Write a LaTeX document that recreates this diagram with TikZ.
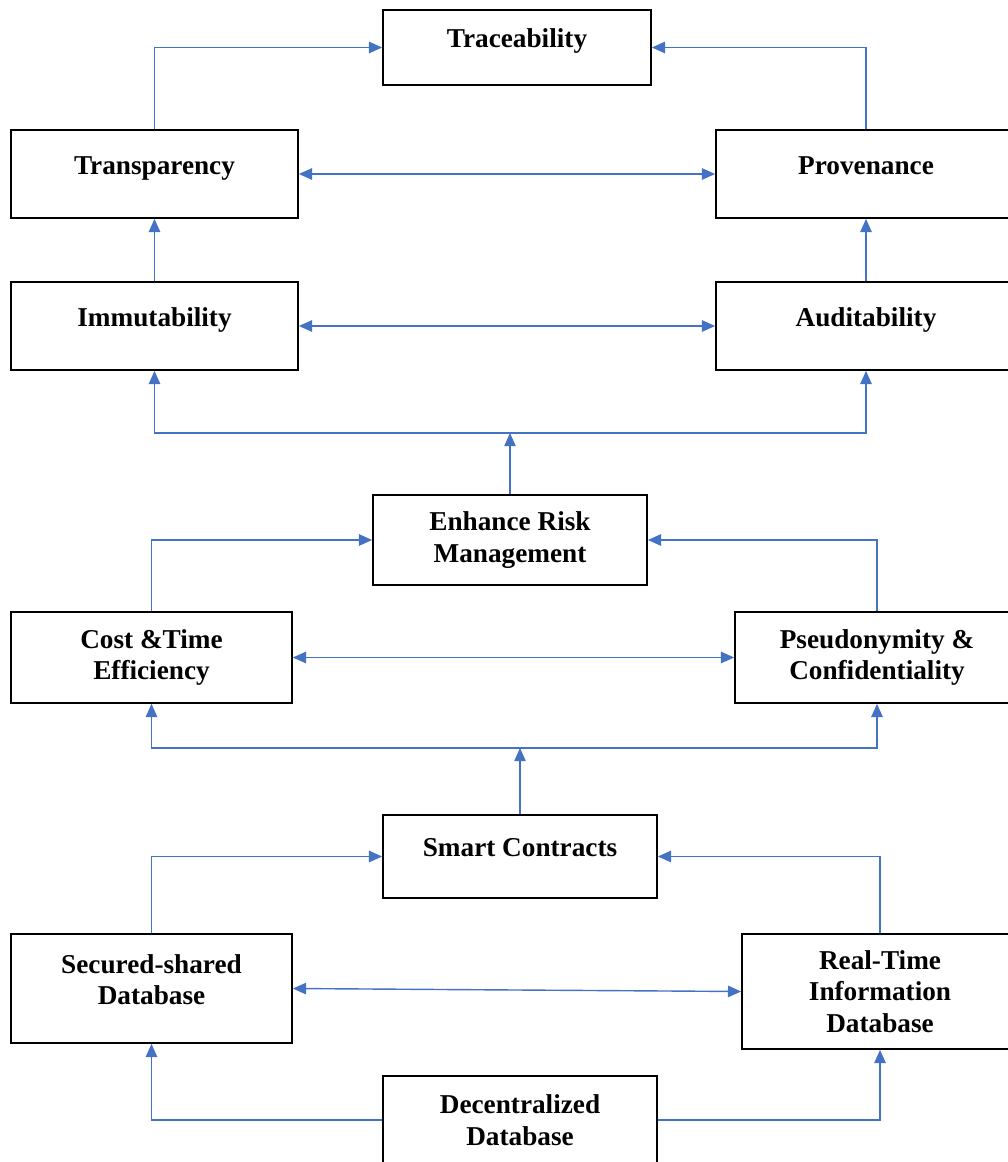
\documentclass[tikz,border=0pt]{standalone}
\usepackage{xcolor}
\usepackage{fontspec}
\setmainfont{Liberation Serif}
\usepackage{tikz}
\usetikzlibrary{arrows.meta}
\definecolor{linkblue}{HTML}{4472C4}
\tikzstyle{blk} = [draw=black, line width=1pt, rectangle, align=center, inner sep=4pt, font=\fontsize{15.5}{18}\selectfont\bfseries]
\tikzstyle{oneline} = [text height=11pt, text depth=11pt]
\tikzstyle{arr} = [draw=linkblue, line width=0.8pt, -{Triangle[length=7.5pt,width=6.5pt]}]
\tikzstyle{darr} = [draw=linkblue, line width=0.8pt, {Triangle[length=7.5pt,width=6.5pt]}-{Triangle[length=7.5pt,width=6.5pt]}]

\begin{document}
\begin{tikzpicture}[x=0.02cm, y=-0.02cm]
    \useasboundingbox (0,0) rectangle (1007,1162);

    % boxes
    \node [blk, oneline, minimum width=5.36cm, minimum height=1.5cm] (trace) at (517,47.5) {Traceability};
    \node [blk, oneline, minimum width=5.74cm, minimum height=1.76cm] (transp) at (154.5,174) {Transparency};
    \node [blk, oneline, minimum width=6cm, minimum height=1.76cm] (prov) at (866,174) {Provenance};
    \node [blk, oneline, minimum width=5.74cm, minimum height=1.76cm] (immut) at (154.5,326) {Immutability};
    \node [blk, oneline, minimum width=6cm, minimum height=1.76cm] (audit) at (866,326) {Auditability};
    \node [blk, minimum width=5.48cm, minimum height=1.8cm] (risk) at (510,540) {Enhance Risk\\Management};
    \node [blk, minimum width=5.62cm, minimum height=1.82cm] (cost) at (151.5,657.5) {Cost \&Time\\Efficiency};
    \node [blk, minimum width=5.68cm, minimum height=1.82cm] (pseudo) at (877,657.5) {Pseudonymity \&\\Confidentiality};
    \node [blk, oneline, minimum width=5.48cm, minimum height=1.66cm] (smart) at (520,856.5) {Smart Contracts};
    \node [blk, minimum width=5.62cm, minimum height=2.18cm] (secured) at (151.5,988.5) {Secured-shared\\Database\\[-13pt]\strut};
    \node [blk, minimum width=5.52cm, minimum height=2.3cm] (realtime) at (880,991.5) {Real-Time\\Information\\Database};
    \node [blk, minimum width=5.48cm, minimum height=1.76cm] (decent) at (520,1120) {Decentralized\\Database};

    \coordinate (j1) at (510,433);
    \coordinate (j2) at (520,748);

    % links
    \draw [arr] (transp.north) |- (trace.west);
    \draw [arr] (prov.north) |- (trace.east);
    \draw [darr] (transp.east) -- (prov.west);
    \draw [arr] (immut.north) -- (transp.south);
    \draw [arr] (audit.north) -- (prov.south);
    \draw [darr] (immut.east) -- (audit.west);
    \draw [arr] (risk.north) -- (j1);
    \draw [arr] (j1) -| (immut.south);
    \draw [arr] (j1) -| (audit.south);
    \draw [arr] (cost.north) |- (risk.west);
    \draw [arr] (pseudo.north) |- (risk.east);
    \draw [darr] (cost.east) -- (pseudo.west);
    \draw [arr] (smart.north) -- (j2);
    \draw [arr] (j2) -| (cost.south);
    \draw [arr] (j2) -| (pseudo.south);
    \draw [arr] (secured.north) |- (smart.west);
    \draw [arr] (realtime.north) |- (smart.east);
    \draw [darr] (secured.east) -- (realtime.west);
    \draw [arr] (decent.west) -| (secured.south);
    \draw [arr] (decent.east) -| (realtime.south);
\end{tikzpicture}
\end{document}
